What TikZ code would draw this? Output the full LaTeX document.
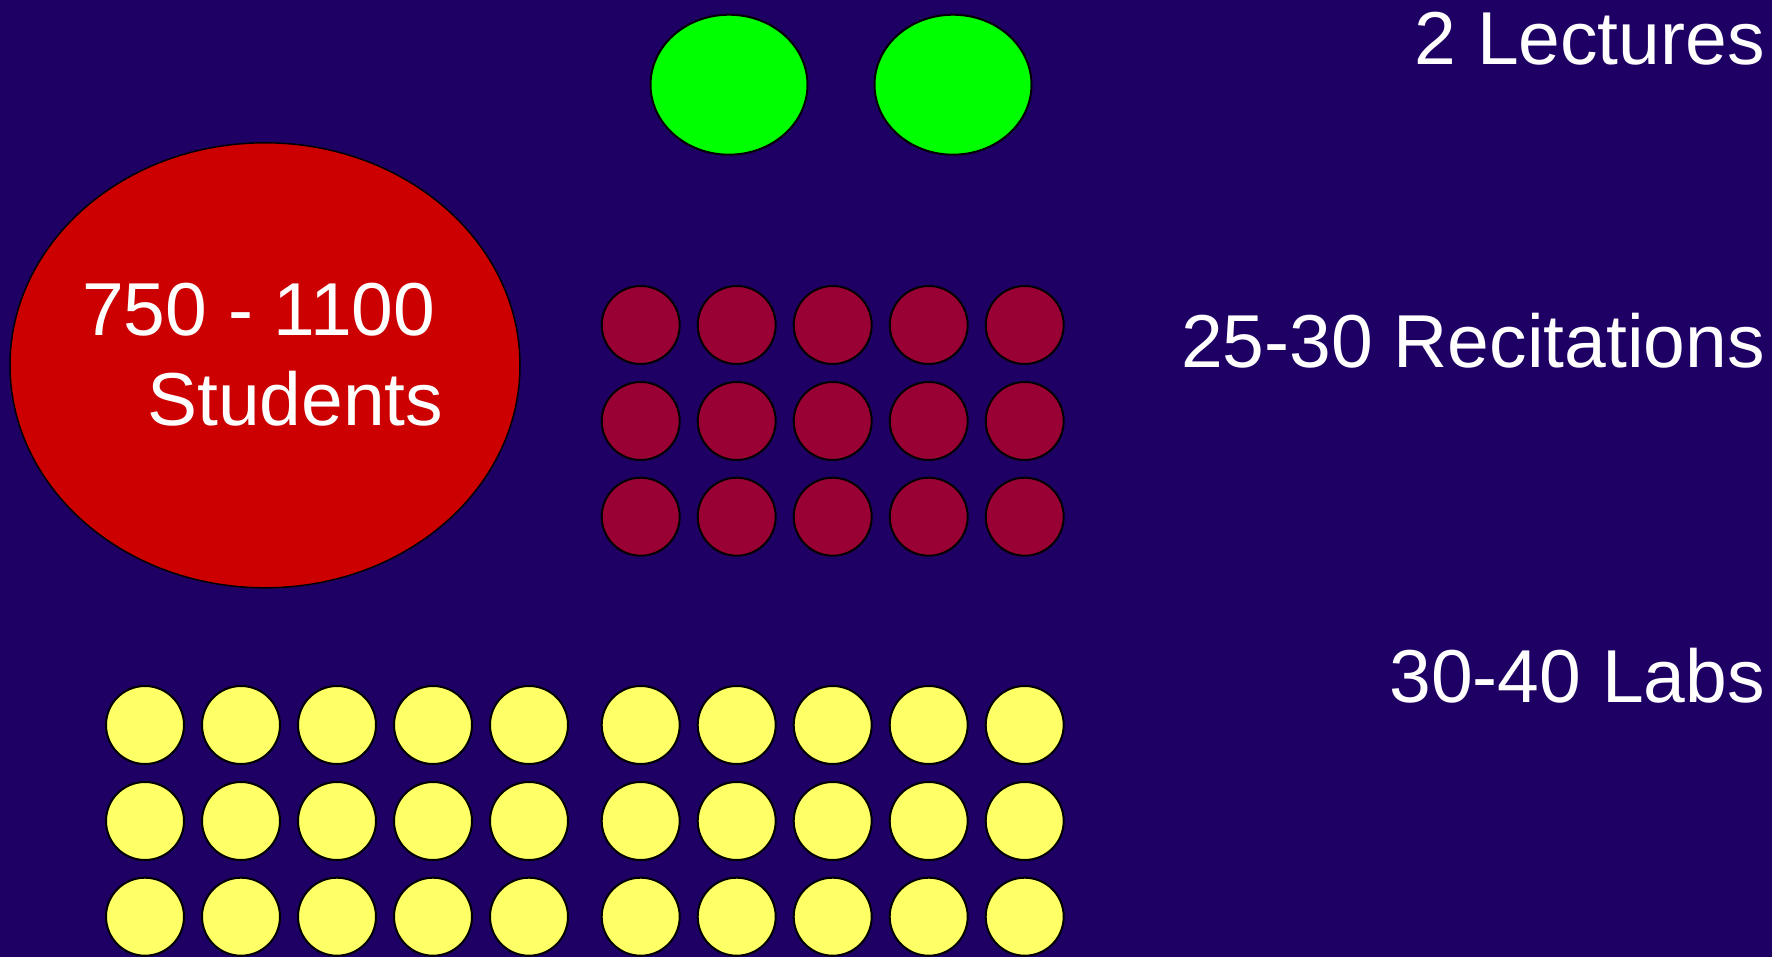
\documentclass[tikz,border=0pt]{standalone}
\usepackage{fontspec}
\setmainfont{Liberation Sans}
\usetikzlibrary{shapes.geometric}
\definecolor{bgblue}{RGB}{30,0,100}
\definecolor{lecgreen}{RGB}{0,255,0}
\definecolor{studred}{RGB}{204,0,0}
\definecolor{recred}{RGB}{153,0,51}
\definecolor{labyellow}{RGB}{255,255,102}
\begin{document}
\begin{tikzpicture}[x=1pt,y=-1pt,
  blob/.style={ellipse, draw=black, line width=2pt, inner sep=0pt},
  lecture/.style={blob, fill=lecgreen, minimum width=157pt, minimum height=140pt},
  recit/.style={blob, fill=recred, minimum width=78pt, minimum height=78pt},
  lab/.style={blob, fill=labyellow, minimum width=78pt, minimum height=78pt},
  bigtext/.style={text=white, inner sep=0pt, font=\fontsize{75}{90}\selectfont}]
\useasboundingbox (0,0) rectangle (1772,957);
\fill[bgblue] (0,0) rectangle (1772,957);
% lectures
\node[lecture] (lec1) at (729,84.7) {};
\node[lecture] (lec2) at (953,84.7) {};
% students
\node[ellipse, draw=black, line width=1.5pt, fill=studred, inner sep=0pt,
  minimum width=510pt, minimum height=445pt] (stud) at (265,365.3) {};
\node[bigtext, anchor=base west] (stud1) at (82,335.7) {750 - 1100};
\node[bigtext, anchor=base west] (stud2) at (147,425) {Students};
% recitations
\foreach \r/\y in {1/325,2/421,3/516.7}{
  \foreach \c/\x in {1/640.7,2/736.7,3/832.7,4/928.7,5/1024.7}{
    \node[recit] (rec-\r-\c) at (\x,\y) {};
  }
}
% labs
\foreach \r/\y in {1/725,2/821,3/916.7}{
  \foreach \c/\x in {1/145,2/241,3/337,4/433,5/529,6/640.7,7/736.7,8/832.7,9/928.7,10/1024.7}{
    \node[lab] (lab-\r-\c) at (\x,\y) {};
  }
}
% labels
\node[bigtext, anchor=base east] (tlec) at (1765,64.3) {2 Lectures};
\node[bigtext, anchor=base east] (trec) at (1765,367.3) {25-30 Recitations};
\node[bigtext, anchor=base east] (tlab) at (1765,702.5) {30-40 Labs};
\end{tikzpicture}
\end{document}
